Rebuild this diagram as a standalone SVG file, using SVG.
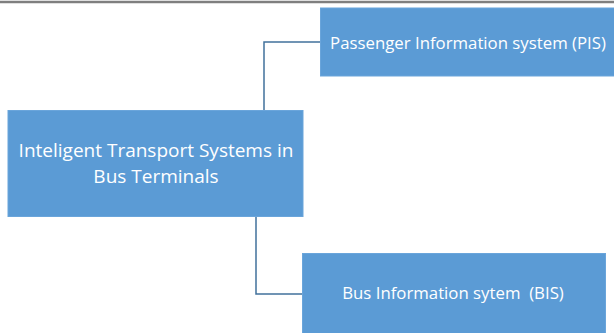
<svg xmlns="http://www.w3.org/2000/svg" width="614" height="333" viewBox="0 0 614 333">
<style>
.box{fill:#5b9bd5;stroke:#6aa5db;stroke-width:1}
.t{fill:#ffffff;font-family:"Open Sans","Liberation Sans",sans-serif;text-anchor:middle}
.c{fill:none;stroke:#41719c;stroke-width:1.5}
</style>
<rect x="0" y="0" width="614" height="333" fill="#ffffff"/>
<line x1="0" y1="2" x2="614" y2="2" stroke="#7f7f7f" stroke-width="2.5"/>
<g id="connectors">
<polyline class="c" points="320,42 264,42 264,110"/>
<polyline class="c" points="256,217 256,294 302,294"/>
</g>
<g id="main">
<rect class="box" x="8" y="110.5" width="295" height="106"/>
<text class="t" x="156" y="157" font-size="19">Inteligent Transport Systems in</text>
<text class="t" x="156" y="183" font-size="19">Bus Terminals</text>
</g>
<g id="pis">
<rect class="box" x="320.5" y="8" width="294" height="68"/>
<text class="t" x="468" y="49" font-size="16.8">Passenger Information system (PIS)</text>
</g>
<g id="bis">
<rect class="box" x="302.5" y="253.5" width="303" height="80"/>
<text class="t" x="453" y="299" font-size="16.8" xml:space="preserve">Bus Information sytem  (BIS)</text>
</g>
</svg>
